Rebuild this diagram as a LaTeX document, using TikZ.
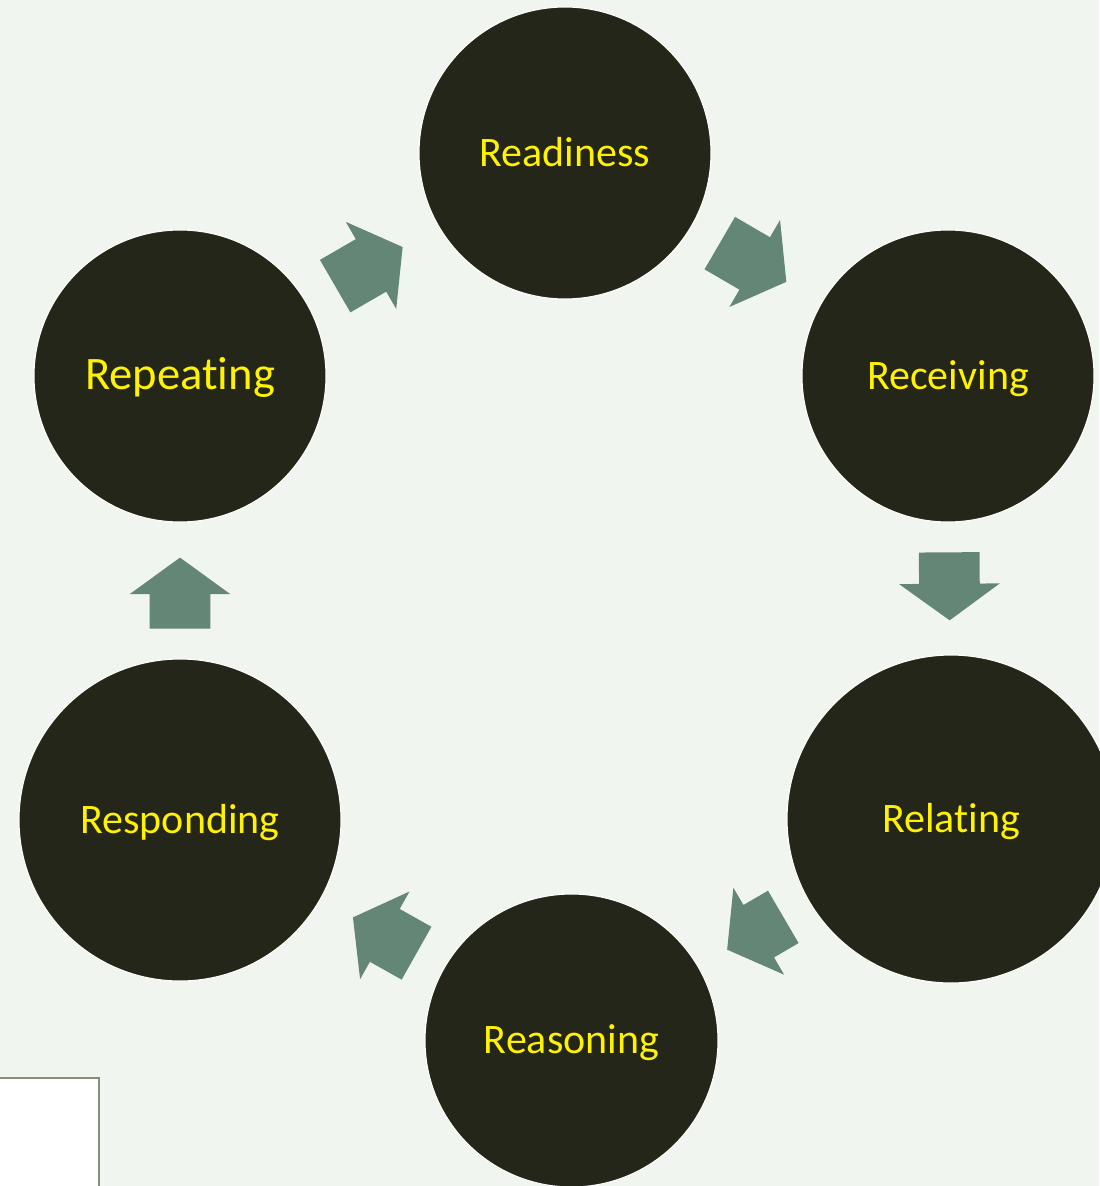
\documentclass[tikz,border=0pt]{standalone}
\usepackage{fontspec}
\setmainfont[Ligatures=NoCommon]{Carlito}
\usetikzlibrary{shapes.arrows}
\definecolor{fond}{HTML}{F1F5EF}
\definecolor{disque}{HTML}{24261A}
\definecolor{vertgris}{HTML}{648677}
\definecolor{bordcadre}{HTML}{858E78}
\begin{document}
\begin{tikzpicture}[x=0.02cm, y=-0.02cm]
	\tikzset{etape/.style={circle, fill=disque, draw=white, line width=0.6pt, text=yellow, inner sep=0, minimum size=5.84cm, text height=20pt, text depth=4.8pt, font=\fontsize{23.9}{28}\selectfont},
		fleche/.style={single arrow, fill=vertgris, draw=none, inner xsep=0, inner ysep=0.6cm, minimum width=2cm, single arrow head extend=0.4cm, single arrow tip angle=108, sloped, allow upside down, pos=0.4}};
	\useasboundingbox (0,0) rectangle (1099,1186);
	\fill[fond] (0,0) rectangle (1099,1186);
	\draw[bordcadre, line width=1.1pt, fill=white] (-10,1078) rectangle (99,1200);

	\node[etape] (readiness) at (565,153) {Readiness};
	\node[etape] (receiving) at (948,376) {Receiving};
	\node[etape, minimum size=6.56cm] (relating) at (951,819) {Relating};
	\node[etape, minimum size=5.86cm] (reasoning) at (571.5,1040.5) {Reasoning};
	\node[etape, minimum size=6.44cm] (responding) at (180,820) {Responding};
	\node[etape, font=\fontsize{26.5}{30}\selectfont] (repeating) at (180,376) {Repeating};

	\path (readiness) -- node[fleche, minimum height=1.54cm] (f1) {} (receiving);
	\path (receiving) -- node[fleche, minimum height=1.36cm] (f2) {} (relating);
	\path (relating) -- node[fleche, minimum height=1.30cm] (f3) {} (reasoning);
	\path (reasoning) -- node[fleche, minimum height=1.46cm] (f4) {} (responding);
	\path (responding) -- node[fleche, minimum height=1.42cm] (f5) {} (repeating);
	\path (repeating) -- node[fleche, minimum height=1.56cm] (f6) {} (readiness);
\end{tikzpicture}
\end{document}
